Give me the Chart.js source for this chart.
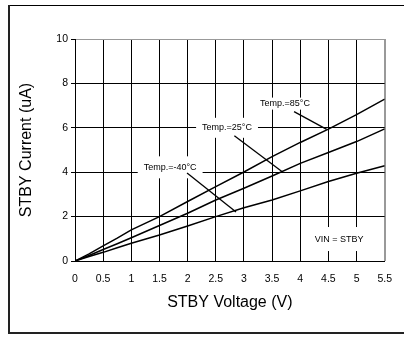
<!DOCTYPE html>
<html>
<head>
<meta charset="utf-8">
<script src="https://cdn.jsdelivr.net/npm/chart.js@4.4.0/dist/chart.umd.min.js"></script>
<style>
  html, body { margin: 0; padding: 0; background: #fff; }
  #wrap { position: relative; width: 404px; height: 343px; }
</style>
</head>
<body>
<div id="wrap"><canvas id="c" width="404" height="343"></canvas></div>
<script>
// STBY voltage (V) vs STBY current (uA)
const voltage = [0, 0.25, 0.5, 0.75, 1, 1.5, 2, 2.5, 3, 3.5, 4, 4.5, 5, 5.5];
const temp85 = [0, 0.32, 0.68, 1.03, 1.4, 2.0, 2.68, 3.35, 4.01, 4.7, 5.34, 5.94, 6.59, 7.29];
const temp25 = [0, 0.25, 0.52, 0.78, 1.05, 1.6, 2.15, 2.75, 3.28, 3.83, 4.4, 4.89, 5.38, 5.95];
const tempM40 = [0, 0.2, 0.39, 0.6, 0.8, 1.17, 1.58, 2.0, 2.4, 2.75, 3.16, 3.58, 3.95, 4.29];

const xTickLabels = ['0', '0.5', '1', '1.5', '2', '2.5', '3', '3.5', '4', '4.5', '5', '5.5'];
const yTickLabels = ['0', '2', '4', '6', '8', '10'];

// callouts: text, text position, leader from/to (in data units)
const notes = [
    { text: 'Temp.=85°C', x: 3.73, y: 7.09, h: 12, from: [3.89, 6.73], to: [4.47, 5.93] },
    { text: 'Temp.=25°C', x: 2.7, y: 6.0, h: 20, from: [2.83, 5.64], to: [3.68, 4.02] },
    { text: 'Temp.=-40°C', x: 1.69, y: 4.22, h: 22, from: [1.99, 3.96], to: [2.86, 2.21] },
    { text: 'VIN = STBY', x: 4.69, y: 0.99, h: 24 }
];

const pts = (ys) => voltage.map((v, i) => ({ x: v, y: ys[i] }));

// outer frame of the figure + plot border
const framePlugin = {
    id: 'frame',
    beforeDraw(chart) {
        const ctx = chart.ctx;
        ctx.save();
        ctx.fillStyle = '#fff';
        ctx.fillRect(0, 0, chart.width, chart.height);
        ctx.strokeStyle = '#000';
        ctx.lineWidth = 1;
        ctx.beginPath();
        ctx.moveTo(9, 5.5); ctx.lineTo(404, 5.5);
        ctx.stroke();
        ctx.lineWidth = 2;
        ctx.strokeStyle = '#222';
        ctx.beginPath();
        ctx.moveTo(9, 5); ctx.lineTo(9, 334);
        ctx.moveTo(8, 333); ctx.lineTo(404, 333);
        ctx.stroke();
        ctx.restore();
    }
};

// callout boxes cut the grid; leaders drawn on top
const notesPlugin = {
    id: 'notes',
    beforeDatasetsDraw(chart) {
        const { ctx, scales: { x, y } } = chart;
        ctx.save();
        ctx.font = '9px "Liberation Sans", Arial, sans-serif';
        ctx.textAlign = 'center';
        ctx.textBaseline = 'middle';
        notes.forEach(n => {
            const px = x.getPixelForValue(n.x);
            const py = y.getPixelForValue(n.y);
            const w = ctx.measureText(n.text).width + 12;
            ctx.fillStyle = '#fff';
            ctx.fillRect(px - w / 2, py - n.h / 2, w, n.h);
            ctx.fillStyle = '#000';
            ctx.fillText(n.text, px, py);
            if (n.from) {
                ctx.strokeStyle = '#000';
                ctx.lineWidth = 1.3;
                ctx.beginPath();
                ctx.moveTo(x.getPixelForValue(n.from[0]), y.getPixelForValue(n.from[1]));
                ctx.lineTo(x.getPixelForValue(n.to[0]), y.getPixelForValue(n.to[1]));
                ctx.stroke();
            }
        });
        ctx.restore();
    }
};

const line = (ys) => ({
    data: pts(ys),
    borderColor: '#000',
    borderWidth: 1.5,
    pointRadius: 0,
    tension: 0,
    fill: false
});

new Chart(document.getElementById('c'), {
    type: 'line',
    data: {
        datasets: [line(temp85), line(temp25), line(tempM40)]
    },
    options: {
        responsive: false,
        animation: false,
        layout: { padding: { top: 39, right: 18, left: 0, bottom: 0 } },
        plugins: { legend: { display: false }, tooltip: { enabled: false } },
        scales: {
            x: {
                type: 'linear',
                min: 0, max: 5.5,
                afterFit: (s) => { s.height = 82; },
                border: { color: '#000', width: 1 },
                grid: {
                    drawTicks: false,
                    color: (c) => (c.tick && c.tick.value === 5.5) ? '#999' : '#000',
                    lineWidth: (c) => (c.tick && c.tick.value === 5.5) ? 2 : 1
                },
                ticks: {
                    stepSize: 0.5,
                    maxRotation: 0,
                    padding: 12,
                    color: '#000',
                    font: { family: '"Liberation Sans", Arial, sans-serif', size: 10.5 },
                    callback: (v, i) => xTickLabels[i]
                },
                title: {
                    display: true,
                    text: 'STBY Voltage (V)',
                    color: '#000',
                    font: { family: '"Liberation Sans", Arial, sans-serif', size: 16 },
                    padding: { top: 0, bottom: 31 }
                }
            },
            y: {
                min: 0, max: 10,
                afterFit: (s) => { s.width = 75; },
                border: { color: '#000', width: 1 },
                grid: {
                    tickLength: 4,
                    color: (c) => (c.tick && c.tick.value === 10) ? '#999' : '#000',
                    tickColor: '#000'
                },
                ticks: {
                    stepSize: 2,
                    padding: 3,
                    color: '#000',
                    font: { family: '"Liberation Sans", Arial, sans-serif', size: 10.5 },
                    callback: (v, i) => yTickLabels[i]
                },
                title: {
                    display: true,
                    text: 'STBY Current (uA)',
                    color: '#000',
                    font: { family: '"Liberation Sans", Arial, sans-serif', size: 16 },
                    padding: { top: 17, bottom: 0 }
                }
            }
        }
    },
    plugins: [framePlugin, notesPlugin]
});
</script>
</body>
</html>
